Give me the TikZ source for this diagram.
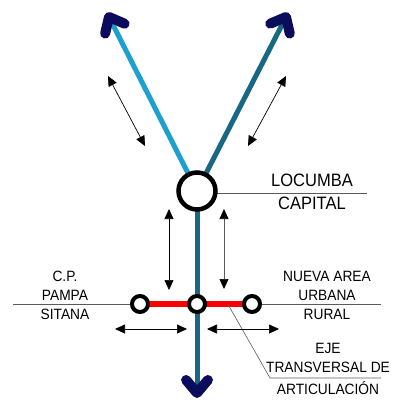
\documentclass[tikz,border=0pt]{standalone}
\usepackage{fontspec}
\setmainfont{Liberation Sans}[FakeStretch=0.92]
\usetikzlibrary{arrows.meta,calc,backgrounds}
\definecolor{skyline}{RGB}{28,160,206}
\definecolor{tealline}{RGB}{24,104,132}
\definecolor{navytip}{RGB}{12,12,92}
\definecolor{leadgray}{RGB}{90,90,90}

\tikzset{
  ring/.style={circle, draw=black, fill=white, line width=4bp, minimum size=16bp, inner sep=0pt},
  bigring/.style={ring, line width=4.5bp, minimum size=37bp},
  road/.style={line width=5bp},
  chevron/.style={draw=navytip, line width=10bp, line cap=round, line join=round},
  dblarrow/.style={line width=0.7bp, {Triangle[length=10bp,width=9bp,color=black]}-{Triangle[length=10bp,width=9bp,color=black]}},
  leader/.style={draw=leadgray, line width=0.6bp},
  lbl/.style={font=\fontsize{15}{19}\selectfont, align=center, inner sep=0pt},
  biglbl/.style={lbl, font=\fontsize{18}{22}\selectfont},
}

\begin{document}
\begin{tikzpicture}[x=1bp, y=-1bp]
  \useasboundingbox (0,0) rectangle (396,403);

  % towns
  \node[bigring] (loc) at (197,191) {};
  \node[ring] (cpp) at (140,304) {};
  \node[ring] (mid) at (197,304) {};
  \node[ring] (nau) at (252,304) {};

  \coordinate (tipL) at (109,17);
  \coordinate (tipR) at (286,17);
  \coordinate (tipB) at (197,393);
  \coordinate (wEnd) at (13,304);
  \coordinate (eEnd) at (381,304);
  \coordinate (locEnd) at (367,193);
  \coordinate (ejeA) at ($(mid)!0.56!(nau)$);
  \coordinate (ejeB) at (270,378);
  \coordinate (ejeC) at (381,378);

  \begin{scope}[on background layer]
    % main roads
    \draw[road, draw=skyline] (loc.center) -- (tipL);
    \draw[road, draw=tealline] (loc.center) -- (tipR);
    \draw[road, draw=tealline] (loc.center) -- (tipB);
    % transversal axis
    \draw[red, line width=6bp] (cpp.center) -- (nau.center);
    \draw[leader] (wEnd) -- (cpp.center);
    \draw[leader] (nau.center) -- (eEnd);
    \draw[leader] (loc.center) ++(0,2) -- (locEnd);
  \end{scope}

  % arrow heads of the roads
  \foreach \t/\b in {tipL/loc.center, tipR/loc.center, tipB/mid.center}
    \draw[chevron] ($(\t)!17bp!40:(\b)$) -- (\t) -- ($(\t)!17bp!-40:(\b)$);

  \draw[leader] (ejeA) -- (ejeB) -- (ejeC);

  % growth arrows
  \draw[dblarrow] (108,76) -- (145,146);
  \draw[dblarrow] (248,146) -- (286,76);
  \draw[dblarrow] (169,209) -- (169,290);
  \draw[dblarrow, draw=leadgray] (224,209) -- (224,289);
  \draw[dblarrow] (115,329) -- (187,329);
  \draw[dblarrow] (207,329) -- (279,329);

  % labels (anchor base = last line)
  \node[biglbl, anchor=base] (locTxt) at (312,186) {LOCUMBA};
  \node[biglbl, anchor=base] (capTxt) at (312,209) {CAPITAL};
  \node[lbl, anchor=base] (cpTxt) at (65,319) {C.P.\\PAMPA\\SITANA};
  \node[lbl, anchor=base] (nuevaTxt) at (327,319) {NUEVA AREA\\URBANA\\RURAL};
  \node[lbl, anchor=base] (ejeTxt) at (328,372) {EJE\\TRANSVERSAL DE};
  \node[lbl, anchor=base] (artTxt) at (328,394) {ARTICULACIÓN};
\end{tikzpicture}
\end{document}
